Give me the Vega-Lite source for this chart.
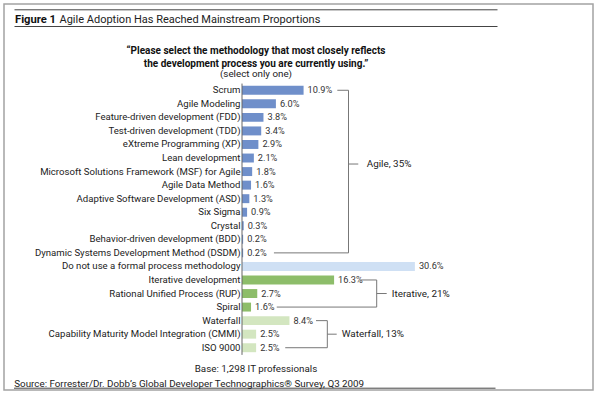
{
  "$schema": "https://vega.github.io/schema/vega-lite/v6.json",
  "autosize": {"type": "none"},
  "padding": {"left": 4, "top": 4, "right": 7, "bottom": 3},
  "width": 589,
  "height": 386,
  "background": "white",
  "config": {
    "view": {"stroke": "#a3a3a3", "strokeWidth": 1.5, "fill": "white"},
    "font": "Roboto",
    "axis": {"grid": false, "labelFont": "Roboto", "titleFont": "Roboto"}
  },
  "datasets": {
    "bars": [
      {"method": "Scrum", "share": 0.109, "group": "agile"},
      {"method": "Agile Modeling", "share": 0.060, "group": "agile"},
      {"method": "Feature-driven development (FDD)", "share": 0.038, "group": "agile"},
      {"method": "Test-driven development (TDD)", "share": 0.034, "group": "agile"},
      {"method": "eXtreme Programming (XP)", "share": 0.029, "group": "agile"},
      {"method": "Lean development", "share": 0.021, "group": "agile"},
      {"method": "Microsoft Solutions Framework (MSF) for Agile", "share": 0.018, "group": "agile"},
      {"method": "Agile Data Method", "share": 0.016, "group": "agile"},
      {"method": "Adaptive Software Development (ASD)", "share": 0.013, "group": "agile"},
      {"method": "Six Sigma", "share": 0.009, "group": "agile"},
      {"method": "Crystal", "share": 0.003, "group": "agile"},
      {"method": "Behavior-driven development (BDD)", "share": 0.002, "group": "agile"},
      {"method": "Dynamic Systems Development Method (DSDM)", "share": 0.002, "group": "agile"},
      {"method": "Do not use a formal process methodology", "share": 0.306, "group": "none"},
      {"method": "Iterative development", "share": 0.163, "group": "iterative"},
      {"method": "Rational Unified Process (RUP)", "share": 0.027, "group": "iterative"},
      {"method": "Spiral", "share": 0.016, "group": "iterative"},
      {"method": "Waterfall", "share": 0.084, "group": "waterfall"},
      {"method": "Capability Maturity Model Integration (CMMI)", "share": 0.025, "group": "waterfall"},
      {"method": "ISO 9000", "share": 0.025, "group": "waterfall"}
    ],
    "brackets": [
      {"x": 0.1687, "x2": 0.1885, "r1": "Scrum", "r2": "Scrum"},
      {"x": 0.1885, "x2": 0.1885, "r1": "Scrum", "r2": "Dynamic Systems Development Method (DSDM)"},
      {"x": 0.0565, "x2": 0.1885, "r1": "Dynamic Systems Development Method (DSDM)", "r2": "Dynamic Systems Development Method (DSDM)"},
      {"x": 0.2088, "x2": 0.2384, "r1": "Iterative development", "r2": "Iterative development"},
      {"x": 0.2384, "x2": 0.2384, "r1": "Iterative development", "r2": "Spiral"},
      {"x": 0.0615, "x2": 0.2384, "r1": "Spiral", "r2": "Spiral"},
      {"x": 0.2384, "x2": 0.2561, "r1": "Rational Unified Process (RUP)", "r2": "Rational Unified Process (RUP)"},
      {"x": 0.131, "x2": 0.151, "r1": "Waterfall", "r2": "Waterfall"},
      {"x": 0.151, "x2": 0.151, "r1": "Waterfall", "r2": "ISO 9000"},
      {"x": 0.0765, "x2": 0.151, "r1": "ISO 9000", "r2": "ISO 9000"},
      {"x": 0.151, "x2": 0.1676, "r1": "Capability Maturity Model Integration (CMMI)", "r2": "Capability Maturity Model Integration (CMMI)"}
    ],
    "groupLabels": [
      {"label": "Iterative, 21%", "x": 0.265, "row": "Rational Unified Process (RUP)"},
      {"label": "Waterfall, 13%", "x": 0.1765, "row": "Capability Maturity Model Integration (CMMI)"}
    ],
    "agileTick": [
      {"x": 0.1885, "x2": 0.2058, "lx": 0.2207, "row": "Lean development", "label": "Agile, 35%"}
    ]
  },
  "resolve": {"axis": {"x": "independent", "y": "independent"}},
  "layer": [
    {
      "data": {"name": "bars"},
      "mark": {"type": "bar"},
      "encoding": {
        "y": {
          "field": "method", "type": "nominal", "sort": null,
          "scale": {
            "domain": ["Scrum", "Agile Modeling", "Feature-driven development (FDD)", "Test-driven development (TDD)", "eXtreme Programming (XP)", "Lean development", "Microsoft Solutions Framework (MSF) for Agile", "Agile Data Method", "Adaptive Software Development (ASD)", "Six Sigma", "Crystal", "Behavior-driven development (BDD)", "Dynamic Systems Development Method (DSDM)", "Do not use a formal process methodology", "Iterative development", "Rational Unified Process (RUP)", "Spiral", "Waterfall", "Capability Maturity Model Integration (CMMI)", "ISO 9000"],
            "range": [79.5, 350.5],
            "paddingInner": 0.34, "paddingOuter": 0.17
          },
          "axis": {
            "orient": "left", "domain": false, "ticks": false, "tickSize": 0,
            "labelPadding": -236, "labelFontSize": 9.6, "labelColor": "#222", "labelLimit": 0,
            "title": "Base: 1,298 IT professionals", "titleAngle": 0,
            "titleX": 251.5, "titleY": 367, "titleAlign": "center", "titleBaseline": "alphabetic",
            "titleFontWeight": "normal", "titleFontSize": 9.8, "titleColor": "#222"
          }
        },
        "x": {
          "field": "share", "type": "quantitative",
          "scale": {"domain": [-0.42124, 0.62124], "nice": false},
          "axis": {
            "orient": "bottom", "offset": -2.3, "labels": false, "ticks": false,
            "domainColor": "#444", "domainWidth": 1, "domainDash": [0, 9.5, 481.5, 3000],
            "title": "Source: Forrester/Dr. Dobb’s Global Developer Technographics® Survey, Q3 2009",
            "titleX": 9.8, "titleY": -1.7, "titleAlign": "left", "titleBaseline": "alphabetic",
            "titleFontWeight": "normal", "titleFontSize": 9.8, "titleColor": "#222"
          }
        },
        "x2": {"datum": 0},
        "color": {
          "field": "group", "type": "nominal",
          "scale": {"domain": ["agile", "none", "iterative", "waterfall"], "range": ["#6f8fca", "#cfe0f4", "#8dbd6a", "#d3e6c0"]},
          "legend": null
        }
      }
    },
    {
      "data": {"name": "bars"},
      "mark": {"type": "text", "align": "left", "baseline": "middle", "dx": 4, "fontSize": 9.2, "color": "#333"},
      "encoding": {
        "y": {
          "field": "method", "type": "nominal", "sort": null,
          "axis": {
            "orient": "right", "domain": false, "ticks": false, "labels": false,
            "title": ["“Please select the methodology that most closely reflects", "the development process you are currently using.”"],
            "titleAngle": 0, "titleX": -337.5, "titleY": 49.5, "titleAlign": "center", "titleBaseline": "alphabetic",
            "titleFontWeight": "bold", "titleFontSize": 10, "titleLineHeight": 13, "titleColor": "#111"
          }
        },
        "x": {
          "field": "share", "type": "quantitative",
          "axis": {
            "orient": "top", "offset": -5.3, "labels": false, "ticks": false,
            "domainColor": "#444", "domainWidth": 1, "domainDash": [0, 10, 483, 3000],
            "title": "Figure 1", "titleX": 10.5, "titleY": 12.7, "titleAlign": "left", "titleBaseline": "alphabetic",
            "titleFontWeight": "bold", "titleFontSize": 11.2, "titleColor": "#111"
          }
        },
        "text": {"field": "share", "type": "quantitative", "format": ".1%"}
      }
    },
    {
      "data": {"name": "brackets"},
      "mark": {"type": "rule", "color": "#777", "strokeWidth": 1},
      "encoding": {
        "x": {
          "field": "x", "type": "quantitative",
          "axis": {
            "orient": "top", "offset": -22, "labels": false, "ticks": false,
            "domainColor": "#444", "domainWidth": 1, "domainDash": [0, 10, 483, 3000],
            "title": "Agile Adoption Has Reached Mainstream Proportions", "titleX": 55, "titleY": -4,
            "titleAlign": "left", "titleBaseline": "alphabetic",
            "titleFontWeight": "normal", "titleFontSize": 11, "titleColor": "#222"
          }
        },
        "x2": {"field": "x2"},
        "y": {
          "field": "r1", "type": "nominal", "bandPosition": 0.5,
          "axis": {
            "orient": "right", "domain": false, "ticks": false, "labels": false,
            "title": "(select only one)", "titleAngle": 0, "titleX": -337.5, "titleY": 72,
            "titleAlign": "center", "titleBaseline": "alphabetic",
            "titleFontWeight": "normal", "titleFontSize": 9.8, "titleColor": "#222"
          }
        },
        "y2": {"field": "r2", "bandPosition": 0.5}
      }
    },
    {
      "data": {"name": "groupLabels"},
      "mark": {"type": "text", "align": "left", "baseline": "middle", "fontSize": 9.9, "color": "#222"},
      "encoding": {
        "x": {"field": "x", "type": "quantitative", "axis": null},
        "y": {"field": "row", "type": "nominal", "axis": null},
        "text": {"field": "label"}
      }
    },
    {
      "data": {"name": "agileTick"},
      "mark": {"type": "rule", "color": "#777", "strokeWidth": 1},
      "encoding": {
        "x": {"field": "x", "type": "quantitative", "axis": null},
        "x2": {"field": "x2"},
        "y": {"field": "row", "type": "nominal", "bandPosition": 1.17, "axis": null}
      }
    },
    {
      "data": {"name": "agileTick"},
      "mark": {"type": "text", "align": "left", "baseline": "middle", "fontSize": 9.9, "color": "#222"},
      "encoding": {
        "x": {"field": "lx", "type": "quantitative", "axis": null},
        "y": {"field": "row", "type": "nominal", "bandPosition": 1.17, "axis": null},
        "text": {"field": "label"}
      }
    },
    {
      "data": {"values": [{}]},
      "mark": {"type": "rule", "color": "#666", "strokeWidth": 1},
      "encoding": {
        "x": {"datum": 0, "type": "quantitative", "axis": null},
        "y": {"datum": "Scrum", "type": "nominal", "bandPosition": -0.25, "axis": null},
        "y2": {"datum": "ISO 9000", "bandPosition": 1.3}
      }
    }
  ]
}
